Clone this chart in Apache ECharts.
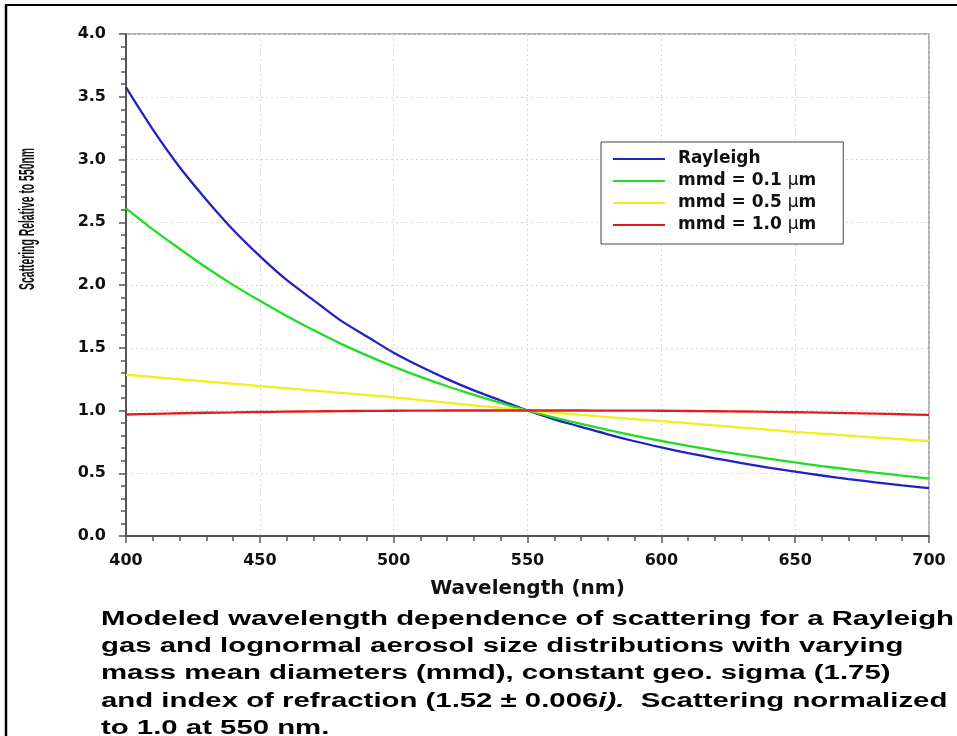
<!DOCTYPE html>
<html>
<head>
<meta charset="utf-8">
<script src="https://cdn.jsdelivr.net/npm/echarts@6/dist/echarts.min.js"></script>
<style>
html,body{margin:0;padding:0;background:#fff;}
#chart{width:957px;height:736px;}
</style>
</head>
<body>
<div id="chart"></div>
<script>
// ---- data ----
const wavelengths = [400,410,420,430,440,450,460,470,480,490,500,510,520,530,540,550,560,570,580,590,600,610,620,630,640,650,660,670,680,690,700];
const rayleigh = [3.574,3.24,2.94,2.68,2.44,2.23,2.04,1.88,1.72,1.59,1.46,1.35,1.25,1.16,1.08,1.00,0.93,0.87,0.81,0.755,0.706,0.661,0.619,0.581,0.545,0.513,0.482,0.454,0.428,0.404,0.381];
const mmd01 = [2.61,2.443,2.289,2.139,2.001,1.874,1.753,1.641,1.535,1.439,1.350,1.268,1.193,1.124,1.060,1.00,0.944,0.893,0.845,0.799,0.757,0.718,0.682,0.648,0.616,0.586,0.557,0.531,0.505,0.481,0.458];
const mmd05 = [1.285,1.267,1.249,1.231,1.213,1.195,1.177,1.159,1.141,1.123,1.105,1.083,1.062,1.041,1.020,1.00,0.982,0.965,0.948,0.932,0.916,0.899,0.881,0.864,0.847,0.830,0.815,0.800,0.785,0.771,0.757];
const mmd10 = [0.968,0.973,0.978,0.982,0.985,0.988,0.991,0.993,0.995,0.997,0.998,0.999,1.0,1.0,1.0,1.00,1.0,1.0,0.999,0.999,0.998,0.996,0.994,0.992,0.989,0.986,0.983,0.979,0.975,0.970,0.965];
const seriesNames = ['Rayleigh','mmd = 0.1 μm','mmd = 0.5 μm','mmd = 1.0 μm'];
const seriesColors = ['#2222c4','#22dc22','#f0f01c','#e01e1e'];
const xAxisTitle = 'Wavelength (nm)';
const yAxisTitle = 'Scattering Relative to 550nm';
const captionLines = [
  'Modeled wavelength dependence of scattering for a Rayleigh',
  'gas and lognormal aerosol size distributions with varying',
  'mass mean diameters (mmd), constant geo. sigma (1.75)',
  'and index of refraction (1.52 ± 0.006{it|i).}  Scattering normalized',
  'to 1.0 at 550 nm.'
];

const allValues = [rayleigh, mmd01, mmd05, mmd10];
const pairs = v => wavelengths.map((w,i)=>[w, v[i]]);

// caption horizontal stretch to match reference width
const capFont = 'bold 20px "Liberation Sans", Arial, sans-serif';
const cv = document.createElement('canvas').getContext('2d');
cv.font = capFont;
const capScale = 853 / cv.measureText(captionLines[0]).width;

const chart = echarts.init(document.getElementById('chart'), null, {renderer:'canvas'});
const axisColor = '#555';
chart.setOption({
  animation:false,
  backgroundColor:'#fff',
  grid:{left:126,right:28,top:34,bottom:200,containLabel:false,outerBoundsMode:'none',
        show:true,borderColor:'#999',borderWidth:1.5,backgroundColor:'transparent'},
  xAxis:{
    type:'value',min:400,max:700,interval:50,
    name:xAxisTitle,nameLocation:'middle',nameGap:43,
    nameTextStyle:{fontFamily:'DejaVu Sans',fontWeight:'bold',fontSize:20,color:'#111'},
    axisLine:{show:true,onZero:false,lineStyle:{color:axisColor,width:2}},
    axisTick:{show:true,length:7,lineStyle:{color:axisColor,width:1.5}},
    minorTick:{show:true,splitNumber:5,length:5,lineStyle:{color:axisColor,width:1.5}},
    splitLine:{show:true,lineStyle:{color:'#d6d6d6',type:[2,3],width:1}},
    axisLabel:{margin:17,fontFamily:'DejaVu Sans',fontWeight:'bold',fontSize:16,color:'#111'}
  },
  yAxis:{
    type:'value',min:0,max:4,interval:0.5,
    axisLine:{show:true,onZero:false,lineStyle:{color:axisColor,width:2}},
    axisTick:{show:true,length:7,lineStyle:{color:axisColor,width:1.5}},
    minorTick:{show:true,splitNumber:5,length:5,lineStyle:{color:axisColor,width:1.5}},
    splitLine:{show:true,lineStyle:{color:'#d6d6d6',type:[2,3],width:1}},
    axisLabel:{margin:20,fontFamily:'DejaVu Sans',fontWeight:'bold',fontSize:16,color:'#111',
               formatter:v=>v.toFixed(1)}
  },
  legend:{
    orient:'vertical',left:601,top:142,
    backgroundColor:'#fff',borderColor:'#444',borderWidth:1,borderRadius:0,
    padding:[8,27,10,12],itemGap:4,itemWidth:52,itemHeight:2,icon:'rect',
    data:seriesNames,
    formatter:n=>n.replace('μ','{u|μ}'),
    textStyle:{fontFamily:'DejaVu Sans',fontWeight:'bold',fontSize:17,color:'#111',lineHeight:18,padding:[0,0,0,8],
      rich:{u:{fontFamily:'DejaVu Sans',fontWeight:'normal',fontSize:17,color:'#111',lineHeight:18}}}
  },
  series: seriesNames.map((n,i)=>({
    name:n,type:'line',data:pairs(allValues[i]),showSymbol:false,symbol:'none',smooth:0.3,
    lineStyle:{color:seriesColors[i],width:2.3},itemStyle:{color:seriesColors[i]},z:2+i
  })),
  graphic:[
    {type:'line',shape:{x1:6,y1:5,x2:6,y2:736},style:{stroke:'#000',lineWidth:2.5},silent:true},
    {type:'line',shape:{x1:5,y1:5,x2:957,y2:5},style:{stroke:'#000',lineWidth:2},silent:true},
    {type:'text',x:28,y:219,rotation:Math.PI/2,scaleX:1,scaleY:2.1,
     style:{text:yAxisTitle,font:'bold 10.4px "Liberation Sans", Arial, sans-serif',fill:'#111',align:'center',verticalAlign:'middle'}},
    {type:'text',x:101,y:605.5,scaleX:capScale,scaleY:1,
     style:{text:captionLines.join('\n'),font:capFont,fill:'#000',lineHeight:27.3,align:'left',verticalAlign:'top',
       rich:{it:{font:'italic bold 20px "Liberation Sans", Arial, sans-serif',fill:'#000',lineHeight:27.3}}}}
  ]
});
</script>
</body>
</html>
